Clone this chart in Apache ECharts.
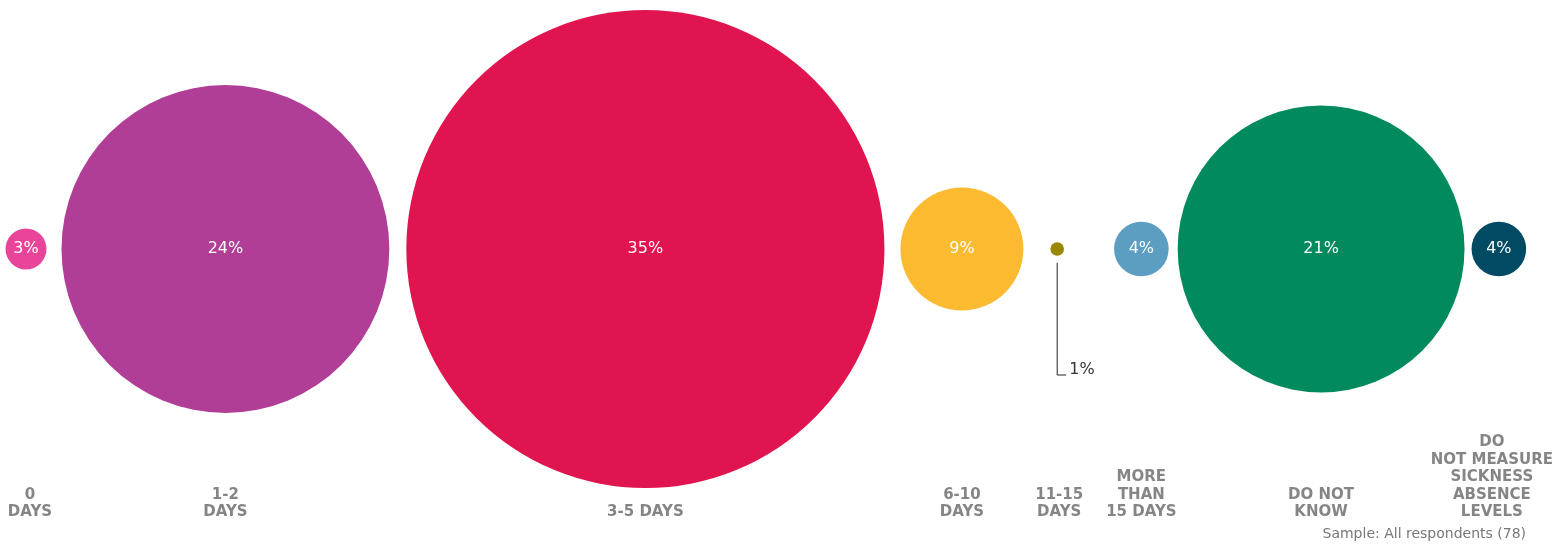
<!DOCTYPE html>
<html>
<head>
<meta charset="utf-8">
<script src="https://cdn.jsdelivr.net/npm/echarts@6/dist/echarts.min.js"></script>
<style>
  html, body { margin: 0; padding: 0; background: #fff; }
  #chart { width: 1566px; height: 548px; }
</style>
</head>
<body>
<div id="chart"></div>
<script>
// data
const categories = ['0\nDAYS', '1-2\nDAYS', '3-5 DAYS', '6-10\nDAYS', '11-15\nDAYS',
  'MORE\nTHAN\n15 DAYS', 'DO NOT\nKNOW', 'DO\nNOT MEASURE\nSICKNESS\nABSENCE\nLEVELS'];
const values = [3, 24, 35, 9, 1, 4, 21, 4];
const colors = ['#E8459A', '#B13E96', '#E0144F', '#FBBA2F', '#9A8800', '#5B9EC1', '#008A5E', '#004A63'];
const sampleNote = 'Sample: All respondents (78)';

// layout
const pxPerPercent = 13.66;     // circle diameter per 1%
const firstCenter = 26;
const gaps = [15, 17, 16, 27, 50, 9, 7];  // white space between neighbouring circles
const labelShift = [4, 0, 0, 0, 2, 0, 0, -7];  // small nudges of the category labels
const circleY = 249;
const labelBottom = 521;
const font = 'DejaVu Sans';

const sizes = values.map(v => v * pxPerPercent);
const centers = [];
sizes.forEach((d, i) => {
  if (i === 0) centers.push(firstCenter);
  else centers.push(centers[i - 1] + sizes[i - 1] / 2 + gaps[i - 1] + d / 2);
});

const bubbleData = values.map((v, i) => ({
  value: [centers[i], circleY, v],
  itemStyle: { color: colors[i], opacity: 1 },
  label: { show: v > 1 }
}));
const catData = categories.map((c, i) => ({
  value: [centers[i], labelBottom],
  name: c,
  label: { offset: [labelShift[i], 0] }
}));

const myChart = echarts.init(document.getElementById('chart'));
myChart.setOption({
  animation: false,
  grid: { left: 0, right: 0, top: 0, bottom: 0 },
  xAxis: { type: 'value', min: 0, max: 1566, show: false },
  yAxis: { type: 'value', min: 0, max: 548, inverse: true, show: false },
  series: [
    {
      type: 'scatter',
      symbol: 'circle',
      symbolSize: val => val[2] * pxPerPercent,
      data: bubbleData,
      emphasis: { disabled: true },
      label: {
        position: 'inside',
        formatter: p => p.value[2] + '%',
        color: '#fff',
        fontFamily: font,
        fontSize: 16
      }
    },
    {
      type: 'scatter',
      symbolSize: 0,
      data: catData,
      silent: true,
      label: {
        show: true,
        position: 'inside',
        formatter: p => p.name,
        verticalAlign: 'bottom',
        align: 'center',
        color: '#666',
        fontFamily: font,
        fontWeight: 'bold',
        fontSize: 15,
        lineHeight: 17.5
      }
    }
  ]
});

// leader line for the 1% bubble
const idx = values.indexOf(1);
const p = myChart.convertToPixel({ gridIndex: 0 }, [centers[idx], circleY]);
const r = sizes[idx] / 2;
myChart.setOption({
  graphic: [
    {
      type: 'polyline',
      shape: { points: [[p[0], p[1] + r + 7], [p[0], 375], [p[0] + 9, 375]] },
      style: { stroke: '#222', lineWidth: 1, fill: null }
    },
    {
      type: 'text',
      x: p[0] + 12, y: 370,
      style: { text: values[idx] + '%', fill: '#333', fontFamily: font, fontSize: 16, verticalAlign: 'middle' }
    },
    {
      type: 'text',
      right: 40, top: 527,
      style: { text: sampleNote, fill: '#777', fontFamily: font, fontSize: 14 }
    }
  ]
});
</script>
</body>
</html>
